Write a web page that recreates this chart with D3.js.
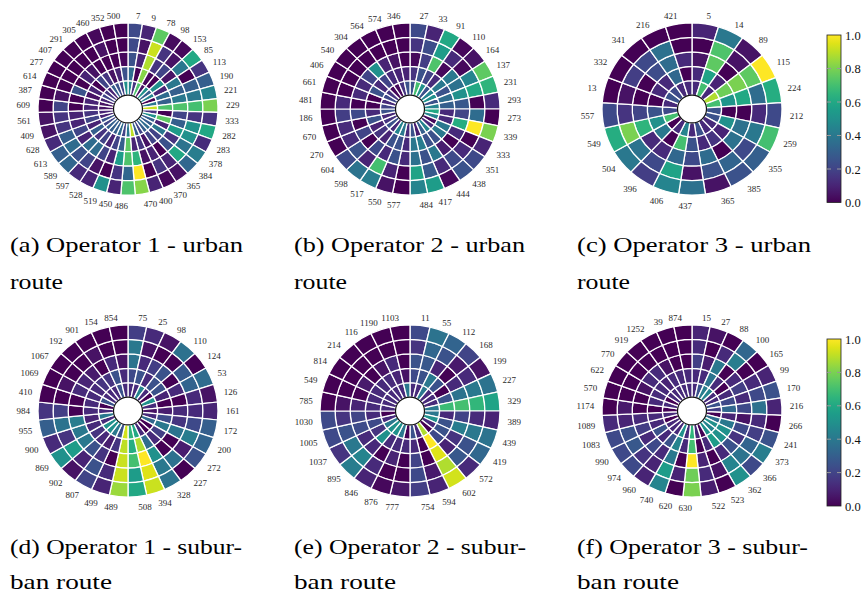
<!DOCTYPE html>
<html>
<head>
<meta charset="utf-8">
<script src="https://cdn.jsdelivr.net/npm/d3@7"></script>
<style>
  body { margin: 0; background: #fff; }
  svg { display: block; }
  text { font-family: "Liberation Serif", "Times New Roman", serif; }
</style>
</head>
<body>
<svg id="fig" width="867" height="595"></svg>
<script>
// Sector labels run clockwise from 12 o'clock; each value row lists one sector's
// five rings from the inner ring to the outer ring (normalised 0..1).

const labelsA = [7, 9, 78, 98, 153, 85, 113, 190, 221, 229, 333, 282, 283, 378, 384, 365, 370, 400, 470, 486,
  450, 519, 528, 597, 589, 613, 628, 409, 561, 609, 387, 614, 277, 407, 291, 305, 460, 352, 500];
const valuesA = [
  [0.45,0.35,0.25,0.22,0.22],[0.15,0.0,0.1,0.05,0.1],[0.72,0.82,0.88,0.92,0.75],[0.05,0.02,0.15,0.15,0.03],
  [0.5,0.0,0.2,0.05,0.02],[0.3,0.5,0.05,0.4,0.6],[0.45,0.1,0.4,0.0,0.15],[0.0,0.35,0.3,0.3,0.3],
  [0.4,0.3,0.4,0.4,0.45],[0.92,0.72,0.72,0.7,0.8],[0.15,0.0,0.2,0.15,0.15],[0.5,0.75,0.3,0.5,0.6],
  [0.3,0.1,0.55,0.5,0.12],[0.3,0.4,0.15,0.38,0.42],[0.35,0.2,0.25,0.6,0.33],[0.3,0.2,0.0,0.1,0.05],
  [0.2,0.05,0.1,0.15,0.02],[0.3,0.15,0.05,0.0,0.1],[0.9,0.1,0.65,1.0,0.82],[0.4,0.75,0.72,0.33,0.72],
  [0.2,0.3,0.55,0.15,0.1],[0.35,0.2,0.1,0.0,0.5],[0.3,0.1,0.2,0.05,0.1],[0.3,0.2,0.35,0.2,0.12],
  [0.3,0.15,0.35,0.25,0.33],[0.2,0.3,0.1,0.35,0.3],[0.25,0.1,0.2,0.3,0.12],[0.1,0.2,0.1,0.15,0.05],
  [0.1,0.15,0.1,0.15,0.05],[0.05,0.1,0.0,0.2,0.0],[0.05,0.1,0.0,0.05,0.0],[0.1,0.05,0.25,0.0,0.0],
  [0.2,0.1,0.0,0.0,0.0],[0.15,0.0,0.1,0.0,0.0],[0.1,0.2,0.05,0.0,0.0],[0.3,0.15,0.0,0.0,0.0],
  [0.25,0.05,0.0,0.05,0.02],[0.2,0.1,0.0,0.0,0.0],[0.5,0.25,0.02,0.0,0.0]
];

const labelsB = [27, 33, 91, 110, 164, 137, 231, 293, 273, 339, 333, 351, 438, 444, 417, 484,
  577, 550, 517, 598, 604, 270, 670, 186, 481, 661, 406, 540, 304, 564, 574, 346];
const valuesB = [
  [0.25,0.15,0.02,0.15,0.22],[0.7,0.25,0.18,0.23,0.1],[0.5,0.2,0.72,0.55,0.6],[0.25,0.12,0.02,0.12,0.02],
  [0.45,0.4,0.4,0.02,0.05],[0.5,0.25,0.37,0.45,0.75],[0.25,0.35,0.5,0.6,0.65],[0.45,0.3,0.27,0.0,0.12],
  [0.6,0.12,0.2,0.35,0.0],[0.45,0.12,0.62,1.0,0.8],[0.02,0.4,0.12,0.0,0.1],[0.12,0.4,0.0,0.12,0.22],
  [0.45,0.25,0.08,0.22,0.25],[0.3,0.25,0.4,0.12,0.02],[0.08,0.42,0.25,0.28,0.55],[0.25,0.4,0.37,0.58,0.45],
  [0.12,0.12,0.12,0.0,0.0],[0.4,0.25,0.25,0.1,0.05],[0.45,0.25,0.12,0.7,0.42],[0.12,0.1,0.22,0.1,0.38],
  [0.25,0.15,0.0,0.25,0.22],[0.15,0.1,0.2,0.12,0.0],[0.12,0.25,0.0,0.12,0.0],[0.25,0.12,0.22,0.18,0.0],
  [0.2,0.0,0.0,0.12,0.0],[0.12,0.0,0.12,0.0,0.0],[0.22,0.25,0.12,0.0,0.0],[0.15,0.12,0.2,0.0,0.0],
  [0.02,0.2,0.5,0.0,0.0],[0.02,0.12,0.1,0.0,0.0],[0.15,0.1,0.05,0.0,0.0],[0.25,0.1,0.0,0.0,0.0]
];

const labelsC = [5, 14, 89, 115, 224, 212, 259, 355, 385, 365, 437, 406, 396, 504, 549, 557, 13, 332, 341, 216, 421];
const valuesC = [
  [0.12,0.12,0.05,0.0,0.1],[0.7,0.58,0.75,0.72,0.4],[0.12,0.1,0.0,0.05,0.05],[0.88,0.78,0.8,0.75,1.0],
  [0.7,0.52,0.6,0.35,0.62],[0.25,0.0,0.0,0.12,0.22],[0.25,0.5,0.37,0.4,0.7],[0.12,0.1,0.37,0.22,0.3],
  [0.12,0.15,0.0,0.32,0.25],[0.25,0.12,0.35,0.25,0.05],[0.12,0.25,0.22,0.05,0.37],[0.45,0.7,0.33,0.58,0.45],
  [0.12,0.0,0.12,0.22,0.18],[0.0,0.4,0.12,0.38,0.4],[0.7,0.5,0.65,0.8,0.62],[0.22,0.25,0.2,0.15,0.22],
  [0.12,0.0,0.0,0.05,0.0],[0.25,0.12,0.0,0.18,0.0],[0.22,0.12,0.23,0.22,0.0],[0.12,0.33,0.35,0.37,0.0],
  [0.12,0.0,0.12,0.0,0.0]
];

const labelsD = [75, 25, 98, 110, 124, 53, 126, 161, 172, 200, 272, 227, 328, 394, 508, 489, 499, 807, 902, 869,
  900, 955, 984, 410, 1069, 1067, 192, 901, 154, 854];
const valuesD = [
  [0.12,0.22,0.38,0.4,0.18],[0.12,0.25,0.12,0.05,0.12],[0.45,0.12,0.18,0.0,0.05],[0.12,0.25,0.25,0.0,0.37],
  [0.0,0.25,0.0,0.28,0.0],[0.5,0.1,0.12,0.32,0.35],[0.12,0.0,0.0,0.12,0.05],[0.05,0.08,0.12,0.12,0.1],
  [0.12,0.23,0.15,0.22,0.3],[0.33,0.4,0.38,0.42,0.32],[0.0,0.18,0.0,0.08,0.25],[0.0,0.12,0.0,0.37,0.0],
  [0.12,0.35,0.5,0.4,0.38],[0.6,0.88,1.0,0.95,0.92],[0.65,0.62,0.7,0.55,0.6],[0.93,0.9,0.92,0.92,0.85],
  [0.25,0.15,0.0,0.12,0.1],[0.4,0.08,0.15,0.25,0.2],[0.5,0.12,0.25,0.1,0.05],[0.5,0.15,0.4,0.55,0.5],
  [0.12,0.12,0.4,0.15,0.12],[0.4,0.1,0.42,0.38,0.3],[0.12,0.12,0.0,0.18,0.15],[0.0,0.12,0.0,0.0,0.0],
  [0.25,0.12,0.12,0.05,0.0],[0.12,0.12,0.1,0.0,0.0],[0.12,0.15,0.07,0.0,0.0],[0.12,0.15,0.0,0.05,0.0],
  [0.25,0.25,0.12,0.0,0.0],[0.12,0.12,0.05,0.0,0.0]
];

const labelsE = [11, 55, 112, 168, 199, 227, 329, 389, 439, 419, 572, 602, 594, 754, 777, 876, 846, 895, 1037,
  1005, 1030, 785, 549, 814, 214, 116, 1190, 1103];
const valuesE = [
  [0.12,0.22,0.25,0.15,0.22],[0.12,0.25,0.27,0.33,0.38],[0.4,0.4,0.1,0.25,0.32],[0.12,0.25,0.0,0.07,0.2],
  [0.12,0.0,0.12,0.12,0.05],[0.12,0.25,0.38,0.4,0.38],[0.4,0.68,0.7,0.66,0.58],[0.4,0.12,0.2,0.12,0.1],
  [0.5,0.25,0.42,0.4,0.38],[0.12,0.25,0.15,0.25,0.33],[0.0,0.22,0.1,0.27,0.12],[0.88,1.0,0.95,0.88,0.93],
  [0.12,0.0,0.0,0.07,0.1],[0.25,0.12,0.2,0.22,0.18],[0.0,0.12,0.0,0.0,0.06],[0.4,0.12,0.1,0.0,0.02],
  [0.5,0.12,0.0,0.12,0.1],[0.5,0.5,0.12,0.45,0.42],[0.4,0.15,0.12,0.4,0.15],[0.12,0.22,0.23,0.25,0.22],
  [0.0,0.12,0.2,0.15,0.22],[0.12,0.12,0.1,0.05,0.0],[0.12,0.12,0.0,0.0,0.0],[0.12,0.12,0.07,0.0,0.0],
  [0.12,0.12,0.0,0.0,0.0],[0.12,0.12,0.05,0.0,0.0],[0.12,0.1,0.12,0.0,0.0],[0.4,0.05,0.0,0.0,0.0]
];

const labelsF = [15, 27, 88, 100, 165, 99, 170, 216, 266, 241, 373, 366, 362, 523, 522, 630, 620, 740, 960,
  974, 990, 1083, 1089, 1174, 570, 622, 770, 919, 1252, 39, 874];
const valuesF = [
  [0.12,0.12,0.18,0.12,0.1],[0.25,0.12,0.08,0.0,0.05],[0.42,0.38,0.4,0.12,0.0],[0.45,0.12,0.0,0.42,0.33],
  [0.12,0.0,0.12,0.0,0.0],[0.12,0.12,0.18,0.12,0.1],[0.25,0.22,0.12,0.22,0.25],[0.18,0.33,0.22,0.37,0.1],
  [0.0,0.1,0.05,0.12,0.0],[0.35,0.4,0.22,0.18,0.25],[0.5,0.5,0.15,0.32,0.42],[0.45,0.5,0.25,0.38,0.22],
  [0.5,0.55,0.12,0.45,0.5],[0.0,0.12,0.0,0.05,0.0],[0.12,0.0,0.1,0.12,0.08],[0.65,0.7,1.0,0.78,0.8],
  [0.12,0.12,0.0,0.1,0.0],[0.5,0.45,0.4,0.55,0.45],[0.12,0.25,0.12,0.1,0.1],[0.12,0.12,0.22,0.15,0.22],
  [0.12,0.25,0.12,0.27,0.22],[0.0,0.12,0.18,0.25,0.22],[0.12,0.12,0.12,0.1,0.12],[0.0,0.0,0.0,0.07,0.0],
  [0.12,0.12,0.0,0.0,0.0],[0.0,0.12,0.05,0.0,0.0],[0.12,0.12,0.12,0.0,0.0],[0.12,0.1,0.12,0.0,0.0],
  [0.12,0.12,0.05,0.0,0.0],[0.12,0.12,0.0,0.0,0.0],[0.12,0.12,0.0,0.0,0.0]
];

const captionsTop = ["(a) Operator 1 - urban", "(b) Operator 2 - urban", "(c) Operator 3 - urban"];
const captionsTop2 = ["route", "route", "route"];
const captionsBottom = ["(d) Operator 1 - subur-", "(e) Operator 2 - subur-", "(f) Operator 3 - subur-"];
const captionsBottom2 = ["ban route", "ban route", "ban route"];
const colorbarTicks = [0.0, 0.2, 0.4, 0.6, 0.8, 1.0];

// ---- layout ----
const colX = [128, 410, 692];
const rowY = [109, 411];
const RX = 90;          // outer ring radius (horizontal)
const KY = 0.956;       // slight vertical squash of the polar panels
const R_HOLE = 14.5;
const N_RINGS = 5;

const svg = d3.select("#fig");
const color = d3.scaleSequential(d3.interpolateViridis).domain([0, 1]);
const radius = d3.scaleLinear().domain([0, N_RINGS]).range([R_HOLE, RX]);
const arc = d3.arc();

const panels = [
  { labels: labelsA, values: valuesA, cx: colX[0], cy: rowY[0] },
  { labels: labelsB, values: valuesB, cx: colX[1], cy: rowY[0] },
  { labels: labelsC, values: valuesC, cx: colX[2], cy: rowY[0] },
  { labels: labelsD, values: valuesD, cx: colX[0], cy: rowY[1] },
  { labels: labelsE, values: valuesE, cx: colX[1], cy: rowY[1] },
  { labels: labelsF, values: valuesF, cx: colX[2], cy: rowY[1] }
];

function drawPanel(p) {
  const n = p.labels.length;
  const angle = d3.scaleLinear().domain([0, n]).range([0, 2 * Math.PI]);
  const g = svg.append("g").attr("transform", `translate(${p.cx},${p.cy})`);
  const disc = g.append("g").attr("transform", `scale(1,${KY})`);

  const cells = [];
  p.values.forEach((rings, s) => rings.forEach((v, r) => cells.push({ s, r, v })));

  disc.selectAll("path.cell").data(cells).join("path")
    .attr("class", "cell")
    .attr("d", d => arc({
      innerRadius: radius(d.r), outerRadius: radius(d.r + 1),
      startAngle: angle(d.s), endAngle: angle(d.s + 1)
    }))
    .attr("fill", d => color(d.v))
    .attr("stroke", "#fff")
    .attr("stroke-width", 1.3)
    .attr("stroke-linejoin", "round");

  disc.append("circle")
    .attr("r", R_HOLE)
    .attr("fill", "#fff")
    .attr("stroke", "#111")
    .attr("stroke-width", 1.2);

  const labR = RX + 8;
  g.selectAll("text.tick").data(p.labels).join("text")
    .attr("class", "tick")
    .attr("x", (d, i) => labR * Math.sin(angle(i + 0.5)))
    .attr("y", (d, i) => {
      const c = Math.cos(angle(i + 0.5));
      return -labR * KY * c + (c < 0 ? -3 * c : 0);
    })
    .attr("text-anchor", (d, i) => angle(i + 0.5) < Math.PI - 1e-6 ? "start" : "end")
    .attr("dominant-baseline", "central")
    .style("font-size", "9px")
    .attr("fill", "#2a2a2a")
    .text(d => d);
}

panels.forEach(drawPanel);

// ---- captions ----
function caption(x, y, str, len) {
  svg.append("text")
    .attr("x", x).attr("y", y)
    .style("font-size", "21px")
    .attr("fill", "#000")
    .attr("textLength", len)
    .attr("lengthAdjust", "spacingAndGlyphs")
    .text(str);
}
const capX = [10, 294, 577];
const topLen = [233, 231, 234];
const botLen = [232, 232, 231];
captionsTop.forEach((t, i) => caption(capX[i], 252, t, topLen[i]));
captionsTop2.forEach((t, i) => caption(capX[i], 289, t, 53));
captionsBottom.forEach((t, i) => caption(capX[i], 554, t, botLen[i]));
captionsBottom2.forEach((t, i) => caption(capX[i], 589, t, 102));

// ---- colour bars ----
const defs = svg.append("defs");
const grad = defs.append("linearGradient")
  .attr("id", "viridisGrad")
  .attr("x1", "0").attr("y1", "1").attr("x2", "0").attr("y2", "0");
d3.range(0, 1.0001, 0.05).forEach(t => {
  grad.append("stop").attr("offset", t).attr("stop-color", color(t));
});

function colorbar(x, yTop, yBot) {
  const w = 14;
  const y = d3.scaleLinear().domain([0, 1]).range([yBot, yTop]);
  const g = svg.append("g");
  g.append("rect")
    .attr("x", x).attr("y", yTop)
    .attr("width", w).attr("height", yBot - yTop)
    .attr("fill", "url(#viridisGrad)")
    .attr("stroke", "#222").attr("stroke-width", 0.8);
  // inward tick marks
  colorbarTicks.filter(t => t > 0 && t < 1).forEach(t => {
    g.append("line").attr("x1", x).attr("x2", x + 4).attr("y1", y(t)).attr("y2", y(t))
      .attr("stroke", "#999").attr("stroke-width", 1);
    g.append("line").attr("x1", x + w - 4).attr("x2", x + w).attr("y1", y(t)).attr("y2", y(t))
      .attr("stroke", "#999").attr("stroke-width", 1);
  });
  const axis = d3.axisRight(y).tickValues(colorbarTicks).tickFormat(d3.format(".1f")).tickSize(0).tickPadding(4);
  const ax = g.append("g").attr("transform", `translate(${x + w},0)`).call(axis);
  ax.select(".domain").remove();
  ax.selectAll("text")
    .attr("font-family", null)
    .style("font-size", "12.5px")
    .attr("fill", "#111");
}
colorbar(827, 35, 202.5);
colorbar(827, 339, 506);
</script>
</body>
</html>
